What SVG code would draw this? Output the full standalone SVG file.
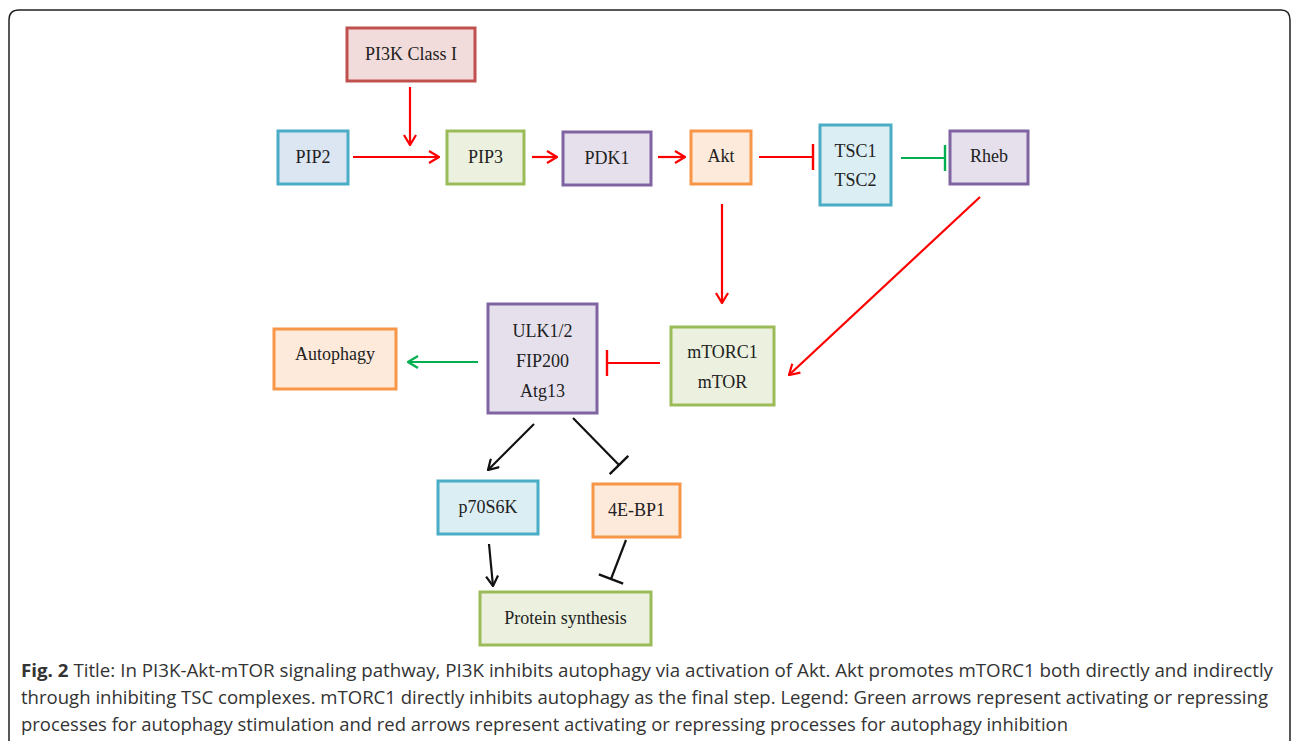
<svg xmlns="http://www.w3.org/2000/svg" width="1293" height="741" viewBox="0 0 1293 741">
<style>
.n rect{stroke-width:3}
.n text{font-family:"Liberation Serif","DejaVu Serif",serif;font-size:18px;fill:#222;text-anchor:middle}
.red{stroke:#ff0000;stroke-width:2.2;fill:none}
.grn{stroke:#00b050;stroke-width:2.2;fill:none}
.blk{stroke:#111;stroke-width:2.2;fill:none}
.cap{font-family:"Open Sans","Liberation Sans",sans-serif;font-size:18.5px;fill:#333}
</style>
<defs>
<marker id="ar" viewBox="0 0 12 14" refX="11" refY="7" markerWidth="12" markerHeight="14" markerUnits="userSpaceOnUse" orient="auto"><path d="M1,1 L11,7 L1,13" fill="none" stroke="#ff0000" stroke-width="2.2"/></marker>
<marker id="ag" viewBox="0 0 12 14" refX="11" refY="7" markerWidth="12" markerHeight="14" markerUnits="userSpaceOnUse" orient="auto"><path d="M1,1 L11,7 L1,13" fill="none" stroke="#00b050" stroke-width="2.2"/></marker>
<marker id="ab" viewBox="0 0 12 14" refX="11" refY="7" markerWidth="12" markerHeight="14" markerUnits="userSpaceOnUse" orient="auto"><path d="M1,1 L11,7 L1,13" fill="none" stroke="#111" stroke-width="2.2"/></marker>
<marker id="tr" viewBox="0 0 4 28" refX="2" refY="14" markerWidth="4" markerHeight="28" markerUnits="userSpaceOnUse" orient="auto"><path d="M2,1 L2,27" stroke="#ff0000" stroke-width="2.4"/></marker>
<marker id="tg" viewBox="0 0 4 28" refX="2" refY="14" markerWidth="4" markerHeight="28" markerUnits="userSpaceOnUse" orient="auto"><path d="M2,1 L2,27" stroke="#00b050" stroke-width="2.4"/></marker>
<marker id="tb" viewBox="0 0 4 28" refX="2" refY="14" markerWidth="4" markerHeight="28" markerUnits="userSpaceOnUse" orient="auto"><path d="M2,1 L2,27" stroke="#111" stroke-width="2.4"/></marker>
</defs>
<rect x="0" y="0" width="1293" height="741" fill="#ffffff"/>
<path d="M9,760 L9,20 Q9,10 19,10 L1281,10 Q1290,10 1290,20 L1290,760" fill="none" stroke="#222" stroke-width="1.5"/>

<g id="connectors">
<path class="red" d="M410,87 L410,145" marker-end="url(#ar)"/>
<path class="red" d="M353,157 L439,157" marker-end="url(#ar)"/>
<path class="red" d="M532,157 L557,157" marker-end="url(#ar)"/>
<path class="red" d="M658,157 L685,157" marker-end="url(#ar)"/>
<path class="red" d="M759,157 L813,157" marker-end="url(#tr)"/>
<path class="grn" d="M901,158 L945,158" marker-end="url(#tg)"/>
<path class="red" d="M722,204 L722,303" marker-end="url(#ar)"/>
<path class="red" d="M980,197 L789,375" marker-end="url(#ar)"/>
<path class="red" d="M660,363 L607,363" marker-end="url(#tr)"/>
<path class="grn" d="M478,362 L408,362" marker-end="url(#ag)"/>
<path class="blk" d="M534,424 L488,470" marker-end="url(#ab)"/>
<path class="blk" d="M573,418 L619,465" marker-end="url(#tb)"/>
<path class="blk" d="M489,544 L493,586" marker-end="url(#ab)"/>
<path class="blk" d="M626,540 L611,579" marker-end="url(#tb)"/>
</g>

<g id="pi3k" class="n"><rect x="347" y="28" width="128" height="53" fill="#f2dcdb" stroke="#c0504d"/><text x="411" y="60">PI3K Class I</text></g>
<g id="pip2" class="n"><rect x="278" y="131" width="70" height="53" fill="#dce6f2" stroke="#4bacc6"/><text x="313" y="163">PIP2</text></g>
<g id="pip3" class="n"><rect x="447" y="131" width="77" height="53" fill="#ebf1de" stroke="#9bbb59"/><text x="485.5" y="163">PIP3</text></g>
<g id="pdk1" class="n"><rect x="563" y="132" width="88" height="53" fill="#e5e0ec" stroke="#8064a2"/><text x="607" y="164">PDK1</text></g>
<g id="akt" class="n"><rect x="691" y="131" width="60" height="53" fill="#fdeada" stroke="#f79646"/><text x="721" y="162">Akt</text></g>
<g id="tsc" class="n"><rect x="820" y="125" width="71" height="80" fill="#dbeef4" stroke="#4bacc6"/><text x="855.5" y="157">TSC1</text><text x="855.5" y="186">TSC2</text></g>
<g id="rheb" class="n"><rect x="950" y="131" width="78" height="53" fill="#e5e0ec" stroke="#8064a2"/><text x="989" y="162">Rheb</text></g>
<g id="ulk" class="n"><rect x="488" y="304" width="109" height="109" fill="#e5e0ec" stroke="#8064a2"/><text x="542.5" y="337">ULK1/2</text><text x="542.5" y="367">FIP200</text><text x="542.5" y="397">Atg13</text></g>
<g id="mtorc1" class="n"><rect x="671" y="327" width="103" height="78" fill="#ebf1de" stroke="#9bbb59"/><text x="722.5" y="358">mTORC1</text><text x="722.5" y="388">mTOR</text></g>
<g id="autophagy" class="n"><rect x="274" y="329" width="122" height="60" fill="#fdeada" stroke="#f79646"/><text x="335" y="360">Autophagy</text></g>
<g id="p70s6k" class="n"><rect x="438" y="481" width="100" height="53" fill="#dbeef4" stroke="#4bacc6"/><text x="488" y="513">p70S6K</text></g>
<g id="4ebp1" class="n"><rect x="593" y="484" width="87" height="53" fill="#fdeada" stroke="#f79646"/><text x="636.5" y="516">4E-BP1</text></g>
<g id="protein" class="n"><rect x="480" y="592" width="171" height="53" fill="#ebf1de" stroke="#9bbb59"/><text x="565.5" y="624">Protein synthesis</text></g>

<g id="caption">
<text class="cap" x="21" y="677" textLength="1252" lengthAdjust="spacingAndGlyphs"><tspan font-weight="bold">Fig. 2</tspan> Title: In PI3K-Akt-mTOR signaling pathway, PI3K inhibits autophagy via activation of Akt. Akt promotes mTORC1 both directly and indirectly</text>
<text class="cap" x="21" y="704" textLength="1247" lengthAdjust="spacingAndGlyphs">through inhibiting TSC complexes. mTORC1 directly inhibits autophagy as the final step. Legend: Green arrows represent activating or repressing</text>
<text class="cap" x="21" y="731" textLength="1047" lengthAdjust="spacingAndGlyphs">processes for autophagy stimulation and red arrows represent activating or repressing processes for autophagy inhibition</text>
</g>
</svg>
